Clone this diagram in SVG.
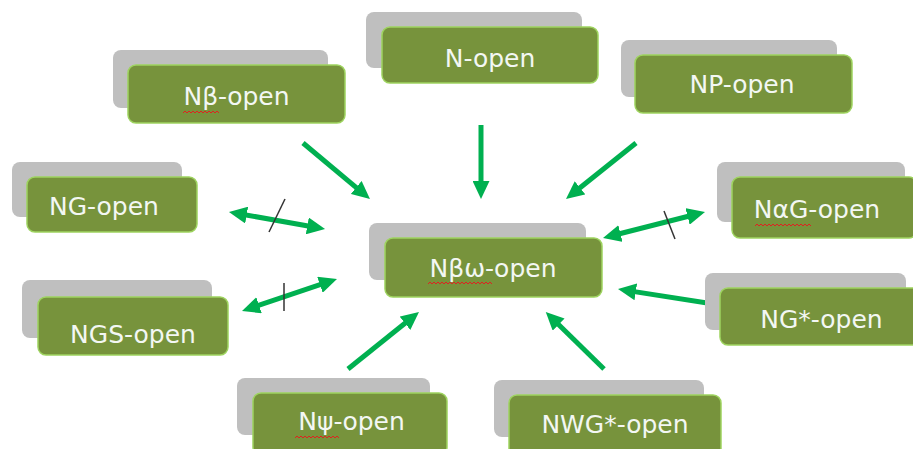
<svg xmlns="http://www.w3.org/2000/svg" width="913" height="449" viewBox="0 0 913 449">
<style>
.sh{fill:#bfbfbf}
.bx{fill:#77933c;stroke:#9ed45f;stroke-width:1.5}
.t{font-family:"DejaVu Sans",Verdana,sans-serif;font-size:25px;fill:#f3f7f3;text-anchor:middle}
.c{fill:none;stroke:#00b050;stroke-width:5;marker-end:url(#ah)}
.d{marker-start:url(#ah)}
.tk{stroke:#333;stroke-width:1.5;fill:none}
.sq{fill:none;stroke:#e02020;stroke-width:1}
</style>
<defs>
<marker id="ah" markerUnits="userSpaceOnUse" viewBox="0 0 18 17" refX="8" refY="8.5" markerWidth="18" markerHeight="17" orient="auto-start-reverse">
<path d="M0,0 L18,8.5 L0,17 z" fill="#00b050"/>
</marker>
</defs>
<rect width="913" height="449" fill="#fff"/>
<g id="connectors">
<line class="c" x1="303" y1="143" x2="362.3" y2="192.6"/>
<line class="c" x1="481" y1="125" x2="481" y2="189"/>
<line class="c" x1="636" y1="143" x2="573.8" y2="192.8"/>
<line class="c d" x1="238.8" y1="213.7" x2="315.2" y2="227.3"/>
<line class="tk" x1="269" y1="232" x2="285" y2="199"/>
<line class="c d" x1="612.7" y1="235.5" x2="695.3" y2="214.5"/>
<line class="tk" x1="664" y1="211" x2="675" y2="239"/>
<line class="c d" x1="251.5" y1="307.8" x2="327.5" y2="282.2"/>
<line class="tk" x1="284" y1="283" x2="284" y2="311"/>
<line class="c" x1="720" y1="305" x2="627.9" y2="290.6"/>
<line class="c" x1="348" y1="369" x2="411.2" y2="318.3"/>
<line class="c" x1="604" y1="369" x2="552.9" y2="319"/>
</g>
<g id="n-open">
<rect class="sh" x="366" y="12" width="216" height="56" rx="8"/>
<rect class="bx" x="382" y="27" width="216" height="56" rx="8"/>
<text class="t" x="490" y="67">N-open</text>
</g>
<g id="nbeta-open">
<rect class="sh" x="113" y="50" width="215" height="58" rx="8"/>
<rect class="bx" x="128" y="65" width="217" height="58" rx="8"/>
<text class="t" x="236.5" y="105">Nβ-open</text>
<path class="sq" d="M183,113 l2,-2 2,2 2,-2 2,2 2,-2 2,2 2,-2 2,2 2,-2 2,2 2,-2 2,2 2,-2 2,2 2,-2 2,2 2,-2 2,2"/>
</g>
<g id="np-open">
<rect class="sh" x="621" y="40" width="216" height="57" rx="8"/>
<rect class="bx" x="635" y="55" width="217" height="58" rx="8"/>
<text class="t" x="742" y="93">NP-open</text>
</g>
<g id="ng-open">
<rect class="sh" x="12" y="162" width="170" height="55" rx="8"/>
<rect class="bx" x="27" y="177" width="170" height="55" rx="8"/>
<text class="t" x="104" y="215">NG-open</text>
</g>
<g id="nalphag-open">
<rect class="sh" x="717" y="162" width="188" height="60" rx="8"/>
<rect class="bx" x="732" y="177" width="185" height="61" rx="8"/>
<text class="t" x="817" y="218">NαG-open</text>
<path class="sq" d="M755,226 l2,-2 2,2 2,-2 2,2 2,-2 2,2 2,-2 2,2 2,-2 2,2 2,-2 2,2 2,-2 2,2 2,-2 2,2 2,-2 2,2 2,-2 2,2 2,-2 2,2 2,-2 2,2 2,-2 2,2 2,-2 2,2"/>
</g>
<g id="nbetaomega-open">
<rect class="sh" x="369" y="223" width="217" height="57" rx="8"/>
<rect class="bx" x="385" y="238" width="217" height="59" rx="8"/>
<text class="t" x="493" y="277">Nβω-open</text>
<path class="sq" d="M428,284 l2,-2 2,2 2,-2 2,2 2,-2 2,2 2,-2 2,2 2,-2 2,2 2,-2 2,2 2,-2 2,2 2,-2 2,2 2,-2 2,2 2,-2 2,2 2,-2 2,2 2,-2 2,2 2,-2 2,2 2,-2 2,2 2,-2 2,2 2,-2 2,2"/>
</g>
<g id="ngs-open">
<rect class="sh" x="22" y="280" width="190" height="58" rx="8"/>
<rect class="bx" x="38" y="297" width="190" height="58" rx="8"/>
<text class="t" x="133" y="343">NGS-open</text>
</g>
<g id="ngstar-open">
<rect class="sh" x="705" y="273" width="201" height="57" rx="8"/>
<rect class="bx" x="720" y="288" width="200" height="57" rx="8"/>
<text class="t" x="821.5" y="328">NG*-open</text>
</g>
<g id="npsi-open">
<rect class="sh" x="237" y="378" width="193" height="57" rx="8"/>
<rect class="bx" x="253" y="393" width="194" height="62" rx="8"/>
<text class="t" x="351.5" y="430">Nψ-open</text>
<path class="sq" d="M295,438 l2,-2 2,2 2,-2 2,2 2,-2 2,2 2,-2 2,2 2,-2 2,2 2,-2 2,2 2,-2 2,2 2,-2 2,2 2,-2 2,2 2,-2 2,2 2,-2 2,2"/>
</g>
<g id="nwgstar-open">
<rect class="sh" x="494" y="380" width="210" height="57" rx="8"/>
<rect class="bx" x="509" y="395" width="212" height="62" rx="8"/>
<text class="t" x="615" y="433">NWG*-open</text>
</g>
</svg>
